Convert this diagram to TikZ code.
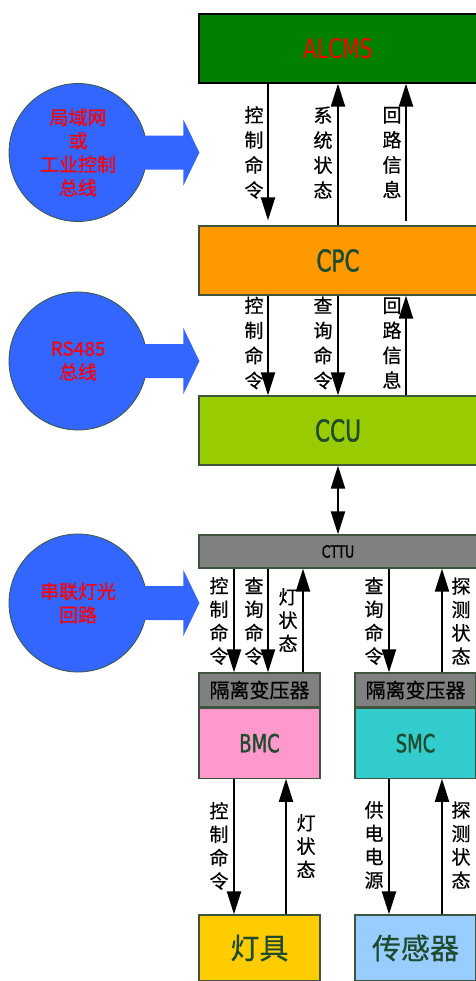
\documentclass[tikz,border=0pt]{standalone}
\usepackage{fontspec}
\setmainfont[FakeBold=0.6]{Noto Sans CJK SC}
\newfontfamily\lettres[FakeStretch=0.75]{DejaVu Sans}
\newfontfamily\lettresgras[FakeStretch=0.72,FakeBold=1.2]{DejaVu Sans}
\usepackage{tikz}
\usetikzlibrary{positioning,calc,arrows.meta}

\definecolor{vertfonce}{RGB}{0,128,0}
\definecolor{orange}{RGB}{255,153,0}
\definecolor{vertclair}{RGB}{153,204,0}
\definecolor{gris}{RGB}{128,128,128}
\definecolor{rose}{RGB}{255,153,204}
\definecolor{turquoise}{RGB}{51,204,204}
\definecolor{jaune}{RGB}{255,204,0}
\definecolor{ciel}{RGB}{153,204,255}
\definecolor{bleu}{RGB}{51,102,255}
\definecolor{texte}{RGB}{30,75,45}
\definecolor{bord}{RGB}{60,85,60}

\tikzset{
	boite/.style={draw=bord, line width=0.6pt, inner sep=0pt, minimum width=139pt, minimum height=34.5pt, text=texte},
	petite/.style={boite, minimum width=60.5pt},
	bulle/.style={circle, draw=bord, fill=bleu, minimum size=69pt, inner sep=0pt, text=red, align=center, font=\fontsize{9.5}{11.75}\selectfont},
	etiq/.style={align=center, inner sep=0pt, font=\fontsize{9.5}{12.5}\selectfont},
	etiqs/.style={align=center, inner sep=0pt, font=\fontsize{9.5}{11.7}\selectfont},
	fleche/.style={line width=1pt, -{Triangle[width=7pt,length=11.5pt]}},
	flechedb/.style={line width=1pt, {Triangle[width=7pt,length=11.5pt]}-{Triangle[width=7pt,length=11.5pt]}}
}

% grosse fleche bleue qui sort d'une bulle
\newcommand\grossefleche[1]{%
	\fill[bleu] ($(#1.east)+(-6,-17)$) -- ++(42,0) -- ++(0,-16) -- ++(16,33) -- ++(-16,33) -- ++(0,-16) -- ++(-42,0) -- cycle;}

\begin{document}
\begin{tikzpicture}[x=0.5pt,y=-0.5pt]
\useasboundingbox (0,0) rectangle (476,981);

%Boites
\node[boite, fill=vertfonce, draw=black, text=red, font=\lettres\fontsize{13.5}{15}\selectfont] (alcms) at (338,48.5) {ALCMS};
\node[boite, fill=orange, font=\lettresgras\fontsize{15}{17}\selectfont] (cpc) at (338,260.5) {CPC};
\node[boite, fill=vertclair, font=\lettresgras\fontsize{15}{17}\selectfont] (ccu) at (338,430.5) {CCU};
\node[boite, fill=gris, minimum height=16.5pt, text=black, font=\lettresgras\fontsize{8.5}{10}\selectfont] (cttu) at (338,551.5) {CTTU};

\node[petite, fill=gris, minimum height=17pt, text=black, font=\fontsize{10}{12}\selectfont] (isoG) at (259.5,690) {隔离变压器};
\node[petite, fill=gris, minimum height=17pt, text=black, font=\fontsize{10}{12}\selectfont] (isoD) at (415.5,690) {隔离变压器};
\node[petite, fill=rose, minimum height=35pt, font=\lettresgras\fontsize{12.5}{14}\selectfont, below=0pt of isoG] (bmc) {BMC};
\node[petite, fill=turquoise, minimum height=35pt, font=\lettresgras\fontsize{12.5}{14}\selectfont, below=0pt of isoD] (smc) {SMC};

\node[petite, fill=jaune, minimum height=33pt, font=\fontsize{14.5}{16}\selectfont] (lampe) at (259.5,948) {灯具};
\node[petite, fill=ciel, minimum height=33pt, font=\fontsize{14.5}{16}\selectfont] (capteur) at (415.5,948) {传感器};

%Bulles
\node[bulle] (reseau) at (78,152.5) {局域网\\或\\工业控制\\总线};
\grossefleche{reseau}
\node[bulle] (rs) at (78,361) {RS485\\总线};
\grossefleche{rs}
\node[bulle] (serie) at (78,603) {串联灯光\\回路};
\grossefleche{serie}

%ALCMS - CPC
\draw[fleche, shorten >=2.5pt] (alcms.south -| 268,0) -- (cpc.north -| 268,0);
\draw[fleche] (cpc.north -| 338,0) -- (alcms.south -| 338,0);
\draw[fleche, shorten <=2pt] (cpc.north -| 406,0) -- (alcms.south -| 406,0);
\node[etiq] (e1) at (254,152.5) {控\\制\\命\\令};
\node[etiq] (e2) at (323,152.5) {系\\统\\状\\态};
\node[etiq] (e3) at (392,152.5) {回\\路\\信\\息};

%CPC - CCU
\draw[fleche] (cpc.south -| 268,0) -- (ccu.north -| 268,0);
\draw[fleche] (cpc.south -| 338,0) -- (ccu.north -| 338,0);
\draw[fleche] (ccu.north -| 406,0) -- (cpc.south -| 406,0);
\node[etiq] (e4) at (254,343) {控\\制\\命\\令};
\node[etiq] (e5) at (323,343) {查\\询\\命\\令};
\node[etiq] (e6) at (392,343) {回\\路\\信\\息};

%CCU - CTTU
\draw[flechedb] (ccu.south) -- (cttu.north);

%CTTU - transformateurs
\draw[fleche] (cttu.south -| 234,0) -- (isoG.north -| 234,0);
\draw[fleche] (cttu.south -| 268,0) -- (isoG.north -| 268,0);
\draw[fleche] (isoG.north -| 303,0) -- (cttu.south -| 303,0);
\draw[fleche] (cttu.south -| 389,0) -- (isoD.north -| 389,0);
\draw[fleche] (isoD.north -| 442,0) -- (cttu.south -| 442,0);
\node[etiqs] (e7) at (219,621) {控\\制\\命\\令};
\node[etiqs] (e8) at (254,621) {查\\询\\命\\令};
\node[etiqs] (e9) at (288,620) {灯\\状\\态};
\node[etiqs] (e10) at (374,621) {查\\询\\命\\令};
\node[etiqs] (e11) at (461,621) {探\\测\\状\\态};

%BMC, SMC - terrain
\draw[fleche] (bmc.south -| 234,0) -- (lampe.north -| 234,0);
\draw[fleche] (lampe.north -| 286,0) -- (bmc.south -| 286,0);
\draw[fleche] (smc.south -| 389,0) -- (capteur.north -| 389,0);
\draw[fleche] (capteur.north -| 442,0) -- (smc.south -| 442,0);
\node[etiqs] (e12) at (219,846) {控\\制\\命\\令};
\node[etiqs] (e13) at (306,846) {灯\\状\\态};
\node[etiqs] (e14) at (374,845) {供\\电\\电\\源};
\node[etiqs] (e15) at (461,845) {探\\测\\状\\态};

\end{tikzpicture}
\end{document}
